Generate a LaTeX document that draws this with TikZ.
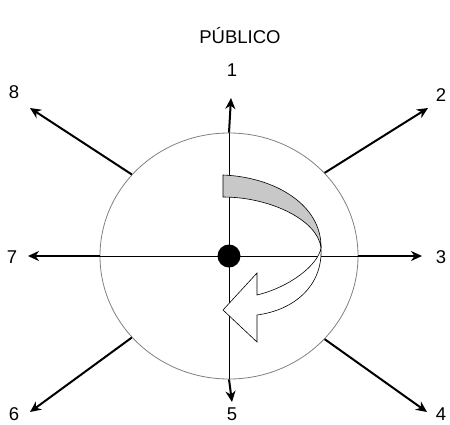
\documentclass[tikz,border=0pt]{standalone}
\usepackage{fontspec}
\setmainfont{Liberation Sans}
\usetikzlibrary{arrows.meta,shapes.geometric}
\definecolor{rimgray}{HTML}{808080}
\definecolor{bandgray}{HTML}{C8C8C8}
\tikzset{
  rim/.style={ellipse, draw=rimgray, line width=0.8pt, inner sep=0pt,
    minimum width=258pt, minimum height=246pt},
  axis/.style={line width=0.8pt, draw=black},
  ray/.style={-{Stealth[length=11pt, width=10pt]}, line width=2pt, draw=black},
  lab/.style={font=\fontsize{18.5}{22}\selectfont, inner sep=0pt},
}

\begin{document}
\begin{tikzpicture}[x=1pt, y=-1pt]
\useasboundingbox (0,0) rectangle (450,424);
% ---------- circle and axes ----------
\node[rim] (disc) at (229,256) {};
\draw[axis] (disc.north) -- (disc.south);
\draw[axis] (disc.west) -- (disc.east);

% ---------- labels ----------
\node[lab] (title) at (240,36) {PÚBLICO};
\node[lab] (l1) at (232,70) {1};
\node[lab] (l2) at (441,95) {2};
\node[lab] (l3) at (441,257) {3};
\node[lab] (l4) at (441,414) {4};
\node[lab] (l5) at (232,414) {5};
\node[lab] (l6) at (14,414) {6};
\node[lab] (l7) at (12,257) {7};
\node[lab] (l8) at (14,92) {8};

% ---------- arrow tips ----------
\coordinate (t1) at (231,98);
\coordinate (t2) at (428,108);
\coordinate (t3) at (422,256);
\coordinate (t4) at (427,412);
\coordinate (t5) at (232,402);
\coordinate (t6) at (30,412);
\coordinate (t7) at (28,256);
\coordinate (t8) at (30,108);

\draw[ray] (disc.north) -- (t1);
\draw[ray] (disc.41) -- (t2);
\draw[ray] (disc.east) -- (t3);
\draw[ray] (disc.-41) -- (t4);
\draw[ray] (disc.south) -- (t5);
\draw[ray] (disc.-140) -- (t6);
\draw[ray] (disc.west) -- (t7);
\draw[ray] (disc.140) -- (t8);

% ---------- turning ribbon ----------
\filldraw[fill=bandgray, draw=black, line width=0.6pt]
  (223,175) .. controls (275,177) and (322,205) .. (321,248)
  .. controls (318,220) and (270,197) .. (223,197) -- cycle;
\filldraw[fill=white, draw=black, line width=0.6pt]
  (321,248) .. controls (323,285) and (295,310) .. (257,315)
  -- (257,342) -- (223,310) -- (257,273) -- (257,295)
  .. controls (290,287) and (318,265) .. (321,248) -- cycle;

% ---------- centre ----------
\node[circle, fill=black, minimum size=23pt, inner sep=0pt] (hub) at (disc.center) {};
\end{tikzpicture}
\end{document}
